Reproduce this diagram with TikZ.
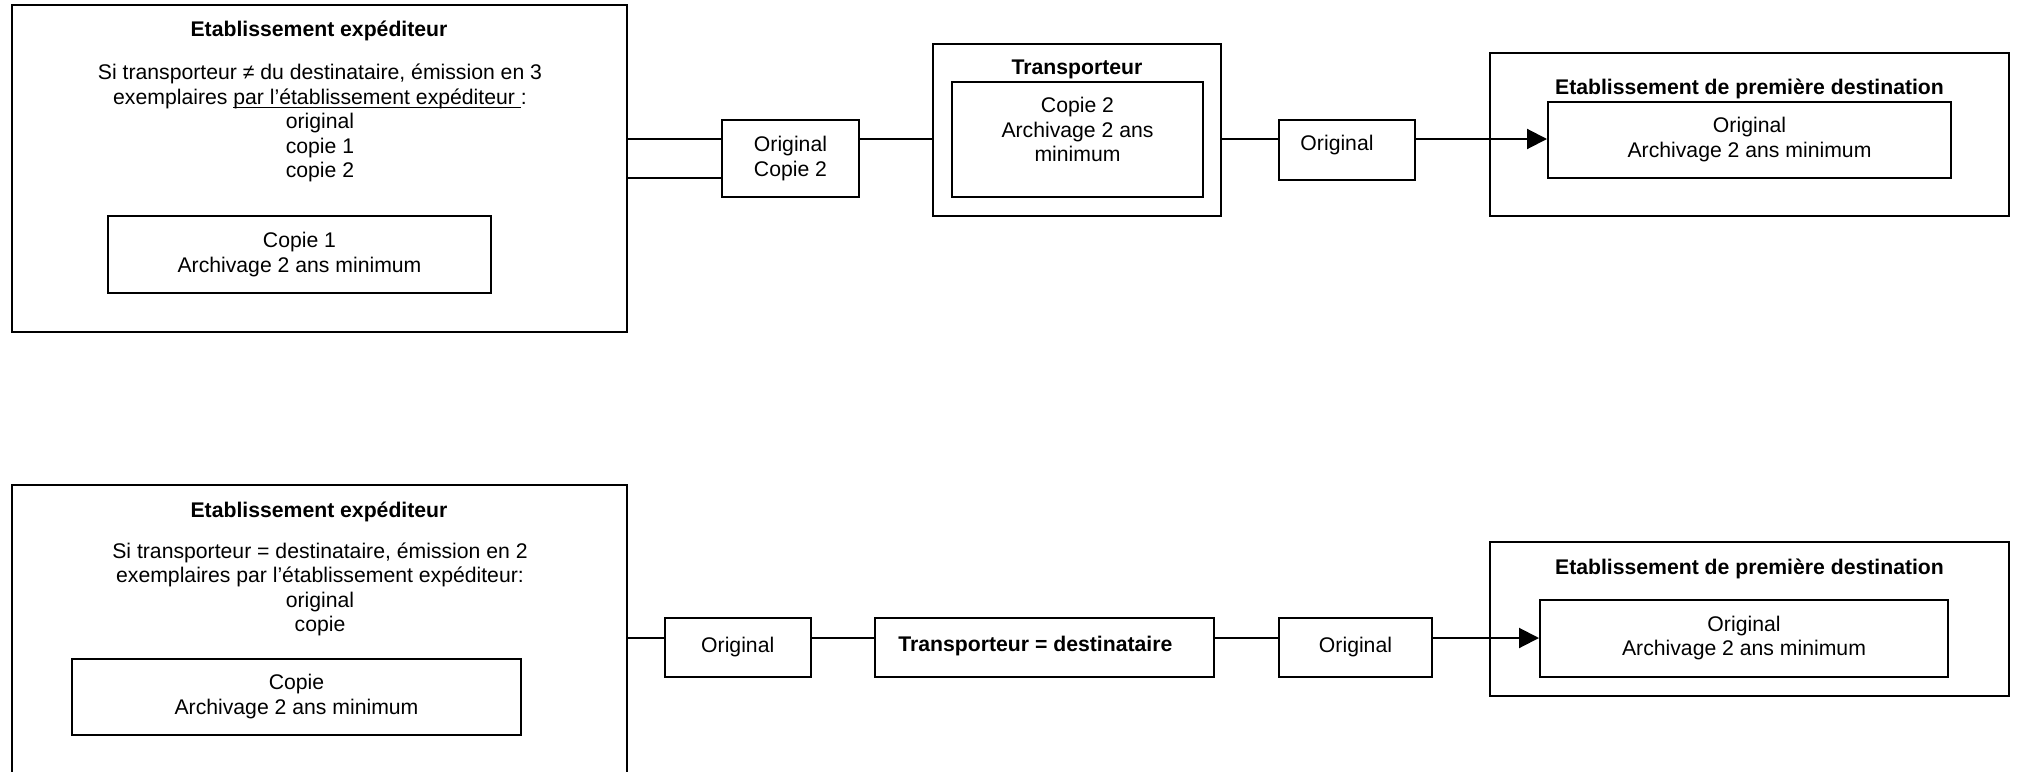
\documentclass[tikz,border=0pt]{standalone}
\usepackage{fontspec}
\setmainfont{Liberation Sans}
\usetikzlibrary{arrows.meta,calc}
\newcommand{\myul}[1]{\setbox0\hbox{#1}\rlap{\rule[-1.9pt]{\wd0}{0.6pt}}\box0}
\begin{document}
\begin{tikzpicture}[x=0.5pt,y=-0.5pt,
  bx/.style 2 args={draw,line width=1pt,inner sep=0pt,minimum width=#1*0.5pt,minimum height=#2*0.5pt},
  txt/.style={inner sep=0pt,align=center,font=\fontsize{10.6pt}{12.2pt}\selectfont},
  btxt/.style={inner sep=0pt,align=center,font=\fontsize{10.6pt}{12.2pt}\selectfont\bfseries},
  conn/.style={line width=1pt},
  arr/.style={line width=1pt,-{Triangle[length=10pt,width=10pt]}}]
\useasboundingbox (0,0) rectangle (2017,771);

% ---------- top row ----------
\coordinate (r1) at (0,139);
\coordinate (r1b) at (0,177.5);
\node[bx={615}{327}] (exp1) at (319,168.5) {};
\node[btxt] (exp1t) at (319,30.5) {Etablissement expéditeur};
\node[txt] (exp1x) at (320,123) {Si transporteur ≠ du destinataire, émission en 3\\exemplaires \myul{par l’établissement expéditeur\ }:\\original\\copie 1\\copie 2};
\node[bx={383}{77},txt] (cop1) at (299.5,254.5) {Copie 1\\Archivage 2 ans minimum};

\node[bx={137}{77},txt] (oc2) at (790.5,158.5) {Original\\Copie 2};

\node[bx={288}{172}] (trans) at (1077,130) {};
\node[btxt] (transt) at (1077,69.5) {Transporteur};
\node[bx={251}{115}] (transi) at (1077.5,139.5) {};
\node[txt,anchor=north] (transx) at (1077.5,97) {Copie 2\\Archivage 2 ans\\minimum};

\node[bx={136}{60}] (orig1) at (1347,150) {};
\node[txt] (orig1t) at (1337,145.5) {Original};

\node[bx={519}{163}] (dest1) at (1749.5,134.5) {};
\node[btxt] (dest1t) at (1749.5,89) {Etablissement de première destination};
\node[bx={403}{76},txt] (dest1i) at (1749.5,139.5) {Original\\Archivage 2 ans minimum};

\draw[conn] (exp1.east |- r1) -- (oc2.west |- r1);
\draw[conn] (exp1.east |- r1b) -- (oc2.west |- r1b);
\draw[conn] (oc2.east |- r1) -- (trans.west |- r1);
\draw[conn] (trans.east |- r1) -- (orig1.west |- r1);
\draw[arr] (orig1.east |- r1) -- (dest1i.west |- r1);

% ---------- bottom row ----------
\coordinate (r2) at (0,638);
\begin{scope}
\clip (0,0) rectangle (2017,771);
\node[bx={615}{315}] (exp2) at (319,642.5) {};
\end{scope}
\node[btxt] (exp2t) at (319,511.5) {Etablissement expéditeur};
\node[txt] (exp2x) at (320,589.5) {Si transporteur = destinataire, émission en 2\\exemplaires par l’établissement expéditeur:\\original\\copie};
\node[bx={449}{76},txt] (cop2) at (296.5,696.5) {Copie\\Archivage 2 ans minimum};

\node[bx={145.5}{59},txt] (orig2) at (737.75,647) {Original};
\node[bx={339}{59}] (td) at (1044.5,647) {};
\node[btxt,anchor=west] (tdt) at (898,646) {Transporteur = destinataire};
\node[bx={153}{59},txt] (orig3) at (1355.5,647) {Original};

\node[bx={519}{154.5}] (dest2) at (1749.5,618.75) {};
\node[btxt] (dest2t) at (1749.5,568.5) {Etablissement de première destination};
\node[bx={408}{77},txt] (dest2i) at (1744,638) {Original\\Archivage 2 ans minimum};

\draw[conn] (exp2.east |- r2) -- (orig2.west |- r2);
\draw[conn] (orig2.east |- r2) -- (td.west |- r2);
\draw[conn] (td.east |- r2) -- (orig3.west |- r2);
\draw[arr] (orig3.east |- r2) -- (dest2i.west |- r2);
\end{tikzpicture}
\end{document}
